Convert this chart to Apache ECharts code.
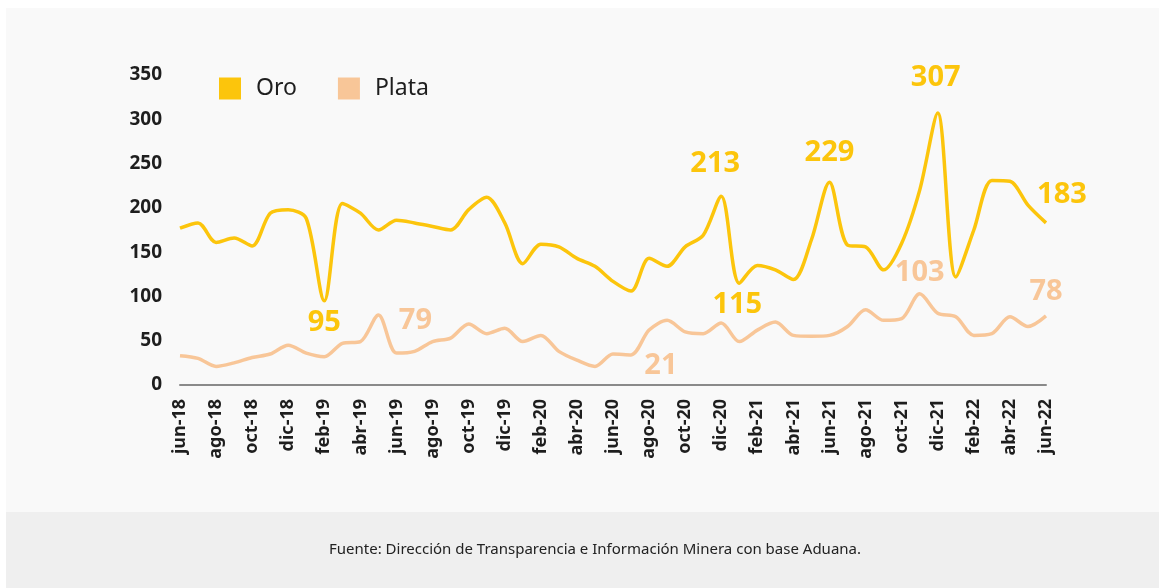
<!DOCTYPE html>
<html>
<head>
<meta charset="utf-8">
<script src="https://cdn.jsdelivr.net/npm/echarts@6/dist/echarts.min.js"></script>
<style>
  html, body { margin: 0; padding: 0; background: #ffffff; }
  #chart { width: 1165px; height: 588px; }
</style>
</head>
<body>
<div id="chart"></div>
<script>
// meses jun-18 .. jun-22
const months = [
  'jun-18', 'jul-18', 'ago-18', 'sep-18', 'oct-18', 'nov-18', 'dic-18',
  'ene-19', 'feb-19', 'mar-19', 'abr-19', 'may-19', 'jun-19', 'jul-19', 'ago-19', 'sep-19', 'oct-19', 'nov-19', 'dic-19',
  'ene-20', 'feb-20', 'mar-20', 'abr-20', 'may-20', 'jun-20', 'jul-20', 'ago-20', 'sep-20', 'oct-20', 'nov-20', 'dic-20',
  'ene-21', 'feb-21', 'mar-21', 'abr-21', 'may-21', 'jun-21', 'jul-21', 'ago-21', 'sep-21', 'oct-21', 'nov-21', 'dic-21',
  'ene-22', 'feb-22', 'mar-22', 'abr-22', 'may-22', 'jun-22'
]
const oro = [
  177, 183, 161, 166, 157, 194, 198,
  188, 95, 205, 194, 175, 186, 183, 179, 175, 198, 212, 183,
  137, 159, 156, 143, 134, 117, 106, 143, 134, 156, 169, 213,
  115, 135, 130, 119, 164, 229, 158, 156, 130, 160, 220, 307,
  122, 175, 231, 230, 203, 183
]
const plata = [
  33, 30, 21, 25, 31, 35, 45,
  36, 32, 47, 49, 79, 36, 38, 49, 53, 69, 58, 64,
  49, 56, 38, 28, 21, 35, 34, 62, 73, 60, 58, 70,
  49, 62, 71, 56, 55, 56, 66, 85, 73, 75, 103, 81,
  77, 56, 58, 77, 66, 78
]
const yTicks = [0, 50, 100, 150, 200, 250, 300, 350]

// puntos rotulados: indice del mes -> desplazamiento del rotulo
const oroLabels = { 8: [0, 22], 30: [-6, -33], 31: [-2, 22], 36: [0, -29], 42: [-2, -35], 48: [16, -28] }
const plataLabels = { 11: [37, 6], 23: [66, -1], 41: [0, -21], 48: [0, -24] }

const gold = '#fcc50c'
const silver = '#f8c698'
const textColor = '#1e1e1e'
const font = '"Noto Sans", "Open Sans", sans-serif'

function buildData (values, labels, color) {
  return values.map((v, i) => {
    if (!labels[i]) return v
    return {
      value: v,
      label: {
        show: true,
        position: 'inside',
        offset: labels[i],
        color: color,
        fontSize: 29,
        fontWeight: 'bold',
        fontFamily: font,
        formatter: '{c}'
      }
    }
  })
}

const chart = echarts.init(document.getElementById('chart'))
const option = {
  backgroundColor: 'transparent',
  animation: false,
  graphic: [
    { type: 'rect', left: 6, top: 8, shape: { width: 1153, height: 504 }, style: { fill: '#f9f9f9' }, z: -10 },
    { type: 'rect', left: 6, top: 512, shape: { width: 1153, height: 76 }, style: { fill: '#efefef' }, z: -10 },
    {
      type: 'text',
      left: 329,
      top: 542,
      style: {
        text: 'Fuente: Dirección de Transparencia e Información Minera con base Aduana.',
        fill: '#222',
        font: '15px "Noto Sans", sans-serif'
      }
    }
  ],
  legend: {
    left: 214,
    top: 72,
    icon: 'rect',
    itemWidth: 22,
    itemHeight: 22,
    itemGap: 41,
    textStyle: {
      color: textColor,
      fontSize: 23,
      fontFamily: font,
      padding: [0, 0, 0, 10]
    },
    data: [
      { name: 'Oro', itemStyle: { color: gold, opacity: 1 } },
      { name: 'Plata', itemStyle: { color: silver, opacity: 1 } }
    ]
  },
  grid: {
    left: 180,
    right: 119,
    top: 75,
    bottom: 203,
    containLabel: false
  },
  xAxis: {
    type: 'category',
    boundaryGap: false,
    data: months,
    axisLine: { show: true, lineStyle: { color: '#8a8a8a', width: 2 } },
    axisTick: { show: false },
    axisLabel: {
      interval: 1,
      rotate: 90,
      margin: 14,
      color: textColor,
      fontSize: 18,
      fontWeight: 'bold',
      fontFamily: font
    },
    splitLine: { show: false }
  },
  yAxis: {
    type: 'value',
    min: yTicks[0],
    max: yTicks[yTicks.length - 1],
    interval: 50,
    axisLine: { show: false },
    axisTick: { show: false },
    splitLine: { show: false },
    axisLabel: {
      margin: 18,
      color: textColor,
      fontSize: 19,
      fontWeight: 'bold',
      fontFamily: font
    }
  },
  series: [
    {
      name: 'Oro',
      type: 'line',
      smooth: 0.3,
      symbol: 'circle',
      symbolSize: 2,
      showSymbol: true,
      color: gold,
      lineStyle: { color: gold, width: 3.5 },
      itemStyle: { color: 'rgba(0,0,0,0)' },
      data: buildData(oro, oroLabels, gold),
      z: 3
    },
    {
      name: 'Plata',
      type: 'line',
      smooth: 0.3,
      symbol: 'circle',
      symbolSize: 2,
      showSymbol: true,
      color: silver,
      lineStyle: { color: silver, width: 3.5 },
      itemStyle: { color: 'rgba(0,0,0,0)' },
      data: buildData(plata, plataLabels, silver),
      z: 2
    }
  ]
}
chart.setOption(option)
</script>
</body>
</html>
